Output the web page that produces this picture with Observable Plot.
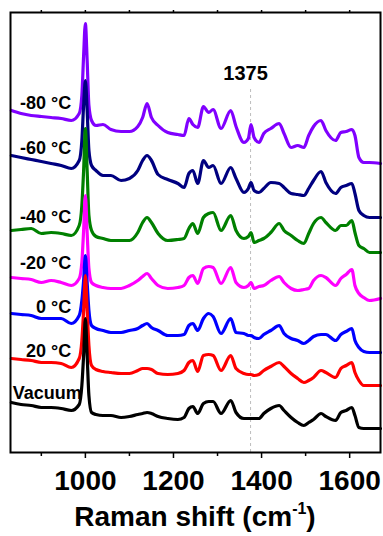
<!DOCTYPE html>
<html><head><meta charset="utf-8">
<script src="https://cdn.jsdelivr.net/npm/d3@7"></script>
<script src="https://cdn.jsdelivr.net/npm/@observablehq/plot@0.6"></script>
<style>
body{margin:0;background:#fff;font-family:Arial,"Liberation Sans",sans-serif;}
#xlabel{width:370px;padding-left:10px;text-align:center;font-size:28px;font-weight:bold;line-height:28px;margin-top:3px;color:#000;white-space:nowrap;}
#xlabel .sup{font-size:16px;position:relative;top:-12px;}
</style></head><body>
<div id="chart"></div>
<div id="xlabel">Raman shift (cm<span class="sup">-1</span>)</div>
<script>
// Raman shift (cm-1) sample positions
const wavenumbers = [832,854,877,900,922,945,968, 986,992,996,1000,1004,1008,1014,
  1024,1040,1058,1081,1100,1119,1130, 1140,1150,1165,1187,1210,1224,1235,
  1244,1255,1268,1280,1290,1308,1330, 1342,1360,1370,1376,1383,1394,1405,
  1421,1440,1451,1467,1482,1496,1507, 1518,1535,1546,1568,1580,1592,1605,
  1612,1621,1632,1645,1670];

// Intensities (a.u., stacked as in the figure)
const m80 = [342,339,337,336,335,334,332, 339,357,397,429,392,347,332,
  327,328,323,321,321,326,335, 349,335,327,320,318,317,334,
  328,325,346,340,343,324,342, 326,310,314,328,315,310,319,
  324,329,319,305,307,305,317, 326,332,322,312,320,321,323,
  317,295,290,290,289];
const m60 = [297,295,293,291,289,287,284, 292,312,347,372,342,302,287,
  282,277,277,272,274,282,292, 297,292,278,273,269,265,279,
  282,269,292,285,287,269,285, 274,260,264,270,262,260,264,
  270,269,265,259,258,257,264, 272,281,270,259,265,267,269,
  259,242,237,235,235];
const m40 = [222,223,224,219,220,219,217, 227,247,282,324,282,237,222,
  216,214,212,212,212,220,230, 235,230,219,212,213,214,224,
  229,219,235,239,240,222,237, 222,214,216,220,210,212,214,
  220,229,222,217,212,209,219, 229,235,230,222,227,227,232,
  220,207,204,200,200];
const m20 = [175,174,173,170,172,170,167, 174,190,222,257,220,184,170,
  167,165,164,164,167,172,176, 179,174,167,164,165,167,175,
  177,169,184,186,185,169,185, 170,165,167,170,164,166,167,
  172,176,170,164,162,163,164, 172,177,175,167,174,178,183,
  167,159,155,152,154];
const p0 = [139,138,137,134,134,134,129, 137,152,172,197,170,142,127,
  124,122,120,120,122,124,127, 129,125,122,117,117,118,127,
  129,122,134,139,136,119,134, 120,119,117,117,115,114,118,
  122,127,119,114,112,109,112, 116,118,118,112,118,121,124,
  112,105,101,100,100];
const p20 = [94,93,92,90,90,89,85, 94,112,142,177,142,107,87,
  83,81,80,79,79,82,84, 84,83,79,78,79,82,90,
  92,81,97,98,97,82,97, 84,79,78,78,77,78,82,
  86,90,86,79,74,70,72, 75,82,80,75,84,87,90,
  80,72,67,67,67];
const vacuum = [50,48,47,45,45,44,42, 48,67,97,134,97,57,40,
  38,37,37,35,36,38,39, 40,39,36,34,33,35,44,
  46,39,49,51,51,39,52, 40,34,34,34,34,34,39,
  44,47,42,35,30,27,30, 33,39,36,32,40,42,45,
  37,25,24,24,24];

const seriesNames = ["-80 °C","-60 °C","-40 °C","-20 °C","0 °C","20 °C","Vacuum"];
const seriesValues = [m80, m60, m40, m20, p0, p20, vacuum];
const seriesColors = ["#8000ff","#000080","#008000","#ff00ff","#0000ff","#ff0000","#000000"];
// label anchor heights (a.u.) next to each trace
const labelLevels = [344, 299, 230, 184, 140, 96, 54];
const majorTicks = [1000,1200,1400,1600];
const minorTicks = [900,1100,1300,1500];
const markerWn = [1375];

const rows = [];
seriesNames.forEach((name, i) => {
  wavenumbers.forEach((w, j) => rows.push({series: name, wn: w, intensity: seriesValues[i][j]}));
});
const labels = seriesNames.map((name, i) => ({series: name, level: labelLevels[i], vac: name === "Vacuum"}));

const font = "Arial, 'Liberation Sans', sans-serif";
const chart = Plot.plot({
  width: 383, height: 500,
  marginTop: 12, marginBottom: 48, marginLeft: 10, marginRight: 3,
  style: {fontFamily: font, fontSize: "28px", fontWeight: "bold", background: "#fff", color: "#000"},
  x: {domain: [830, 1670], label: null},
  y: {domain: [0, 440], axis: null},
  color: {domain: seriesNames, range: seriesColors},
  marks: [
    Plot.ruleX(markerWn, {y1: 0, y2: 365, stroke: "#bdbdbd", strokeWidth: 1, strokeDasharray: "3,3"}),
    Plot.line(rows, {x: "wn", y: "intensity", z: "series", stroke: "series", strokeWidth: 3.2, strokeLinejoin: "round", curve: "monotone-x"}),
    Plot.text(labels.filter(d => !d.vac), {x: 968, y: "level", text: "series", textAnchor: "end", lineAnchor: "bottom", fontSize: 18, fontWeight: "bold", fontFamily: font, fill: "#000"}),
    Plot.text(labels.filter(d => d.vac), {x: 835, y: "level", text: "series", textAnchor: "start", lineAnchor: "bottom", fontSize: 18, fontWeight: "bold", fontFamily: font, fill: "#000"}),
    Plot.text(markerWn, {x: d => d, y: 373, text: d => String(d), dx: -5, lineAnchor: "bottom", fontSize: 20, fontWeight: "bold", fontFamily: font, fill: "#000"}),
    Plot.frame({stroke: "#000", strokeWidth: 2}),
    Plot.axisX({ticks: majorTicks, tickSize: 6, tickPadding: 12, tickFormat: d => String(d), label: null, fontSize: 28, fontWeight: "bold", strokeWidth: 1.5}),
    Plot.axisX({ticks: minorTicks, tickSize: 4, tickFormat: () => "", label: null, strokeWidth: 1.5}),
    Plot.axisX({anchor: "top", ticks: majorTicks.concat(minorTicks), tickSize: 3, tickFormat: () => "", label: null, strokeWidth: 1.5})
  ]
});
document.getElementById("chart").appendChild(chart);
</script>
</body></html>
